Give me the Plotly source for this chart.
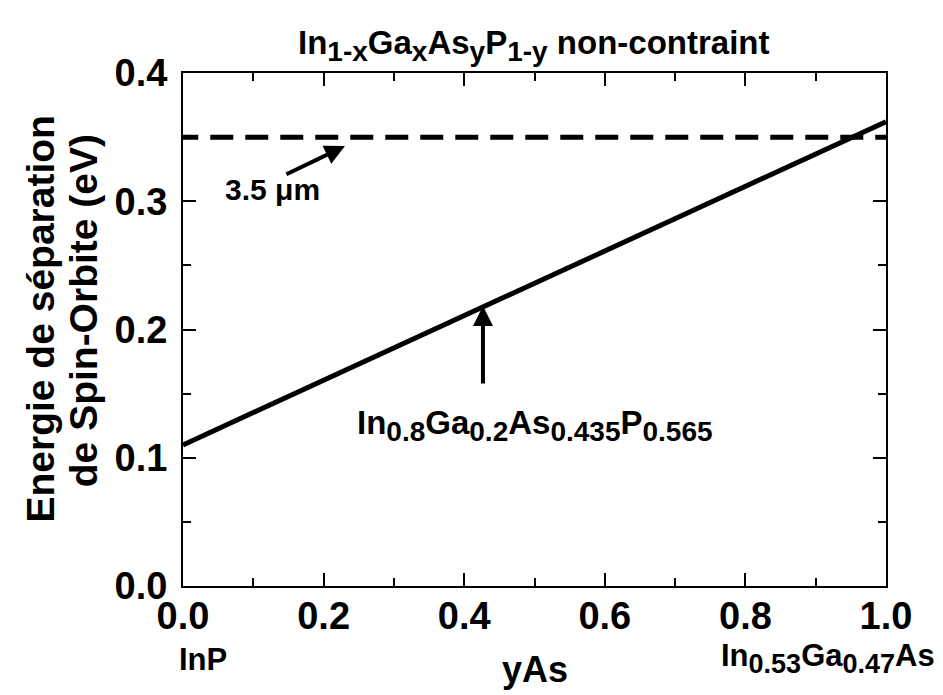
import plotly.graph_objects as go

# Data
y_as = [0.0, 1.0]
delta_so = [0.11, 0.362]
cutoff_x = [-0.011, 1.0]
cutoff_e = [0.35, 0.35]
x_ticks = [0.0, 0.2, 0.4, 0.6, 0.8, 1.0]
y_ticks = [0.0, 0.1, 0.2, 0.3, 0.4]

FONT = "Liberation Sans, Arial, sans-serif"


def sub(t, size):
    # plotly shrinks <sub> to 70%; the original keeps indices almost full size
    return "<sub><span style='font-size:%dpx'>%s</span></sub>" % (size, t)


fig = go.Figure()
fig.add_trace(go.Scatter(x=cutoff_x, y=cutoff_e, mode="lines", cliponaxis=False,
                         line=dict(color="black", width=5, dash="23px,12px"),
                         showlegend=False))
fig.add_trace(go.Scatter(x=y_as, y=delta_so, mode="lines",
                         line=dict(color="black", width=5),
                         showlegend=False))

axis_common = dict(showline=True, linecolor="black", linewidth=2, mirror="ticks",
                   ticks="inside", ticklen=13, tickwidth=2, tickcolor="black",
                   showgrid=False, zeroline=False)

fig.update_xaxes(range=[0, 1], tickvals=x_ticks, tickformat=".1f",
                 tickfont=dict(size=38, family=FONT, weight="bold"),
                 ticklabelstandoff=-5,
                 minor=dict(dtick=0.1, ticks="inside", ticklen=8, tickwidth=2, tickcolor="black"),
                 **axis_common)
fig.update_yaxes(range=[0, 0.4], tickvals=y_ticks, tickformat=".1f",
                 tickfont=dict(size=38, family=FONT, weight="bold"),
                 ticklabelstandoff=6,
                 minor=dict(dtick=0.05, ticks="inside", ticklen=8, tickwidth=2, tickcolor="black"),
                 **axis_common)

bold = dict(family=FONT, color="black", weight="bold")


def note(text, x, y, size, **kw):
    kw.setdefault("xref", "paper")
    kw.setdefault("yref", "paper")
    kw.setdefault("yanchor", "middle")
    fig.add_annotation(text=text, x=x, y=y, xanchor="center", showarrow=False,
                       font=dict(size=size, **bold), **kw)


title = ("In" + sub("1-x", 28) + "Ga" + sub("x", 28) + "As" + sub("y", 28)
         + "P" + sub("1-y", 28) + " non-contraint")
note(title, 0.498, 1.053, 33)

note("Energie de séparation", -0.203, 0.52, 39, textangle=-90)
note("de Spin-Orbite (eV)", -0.142, 0.536, 39, textangle=-90)

note("yAs", 0.5, -0.207, 36, yanchor="bottom")
note("InP", 0.028, -0.144, 31)
note("In" + sub("0.53", 27) + "Ga" + sub("0.47", 27) + "As", 0.918, -0.142, 31)

# 3.5 um arrow
fig.add_annotation(x=0.2304, y=0.343, ax=0.145, ay=0.3205, axref="x", ayref="y",
                   text="", showarrow=True, arrowhead=2, arrowsize=1, arrowwidth=4,
                   arrowcolor="black")
note("3.5 μm", 0.128, 0.3095, 30, xref="x", yref="y")

# composition arrow
fig.add_annotation(x=0.4267, y=0.2183, ax=0.4267, ay=0.1567, axref="x", ayref="y",
                   text="", showarrow=True, arrowhead=2, arrowsize=1, arrowwidth=4,
                   arrowcolor="black")
comp = ("In" + sub("0.8", 28) + "Ga" + sub("0.2", 28) + "As" + sub("0.435", 28)
        + "P" + sub("0.565", 28))
note(comp, 0.5, 0.1248, 33, xref="x", yref="y")

fig.update_layout(width=943, height=695, plot_bgcolor="white", paper_bgcolor="white",
                  margin=dict(l=175, r=65, t=65, b=117),
                  font=dict(family=FONT, color="black"))

fig.write_html("out.html")
